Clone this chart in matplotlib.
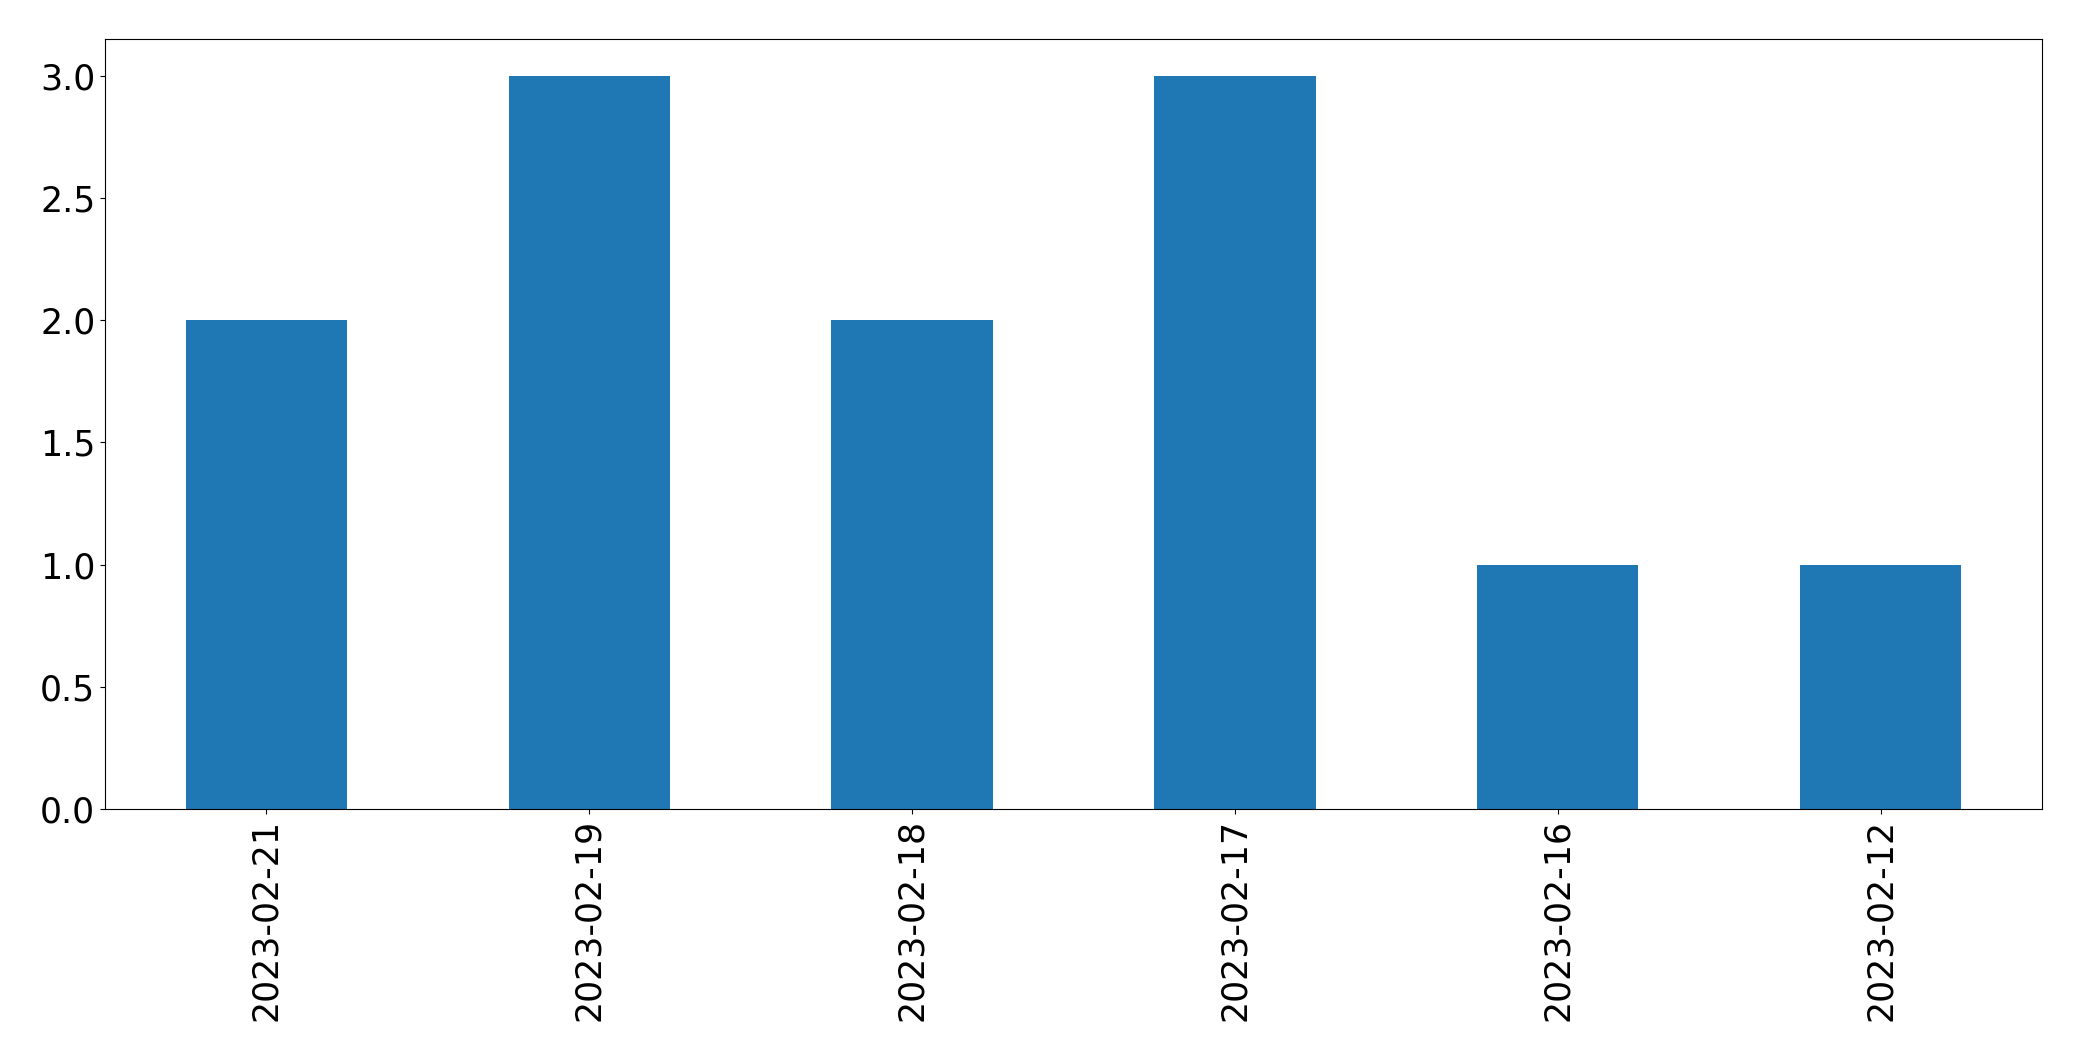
import matplotlib
matplotlib.use("Agg")
import matplotlib.pyplot as plt

dates = ['2023-02-21', '2023-02-19', '2023-02-18', '2023-02-17', '2023-02-16', '2023-02-12']
counts = [2, 3, 2, 3, 1, 1]

fig = plt.figure(figsize=(20.82, 10.61), dpi=100)
ax = fig.add_axes([105 / 2082, 1 - 809 / 1061, (2042 - 105) / 2082, (809 - 39) / 1061])

x = range(len(dates))
ax.bar(x, counts, width=0.5, color='#1f77b4')
ax.set_xlim(-0.5, len(dates) - 0.5)
ax.set_xticks(list(x))
ax.set_xticklabels(dates, rotation=90)
ax.tick_params(labelsize=25)

fig.savefig('out.png', dpi=100)
